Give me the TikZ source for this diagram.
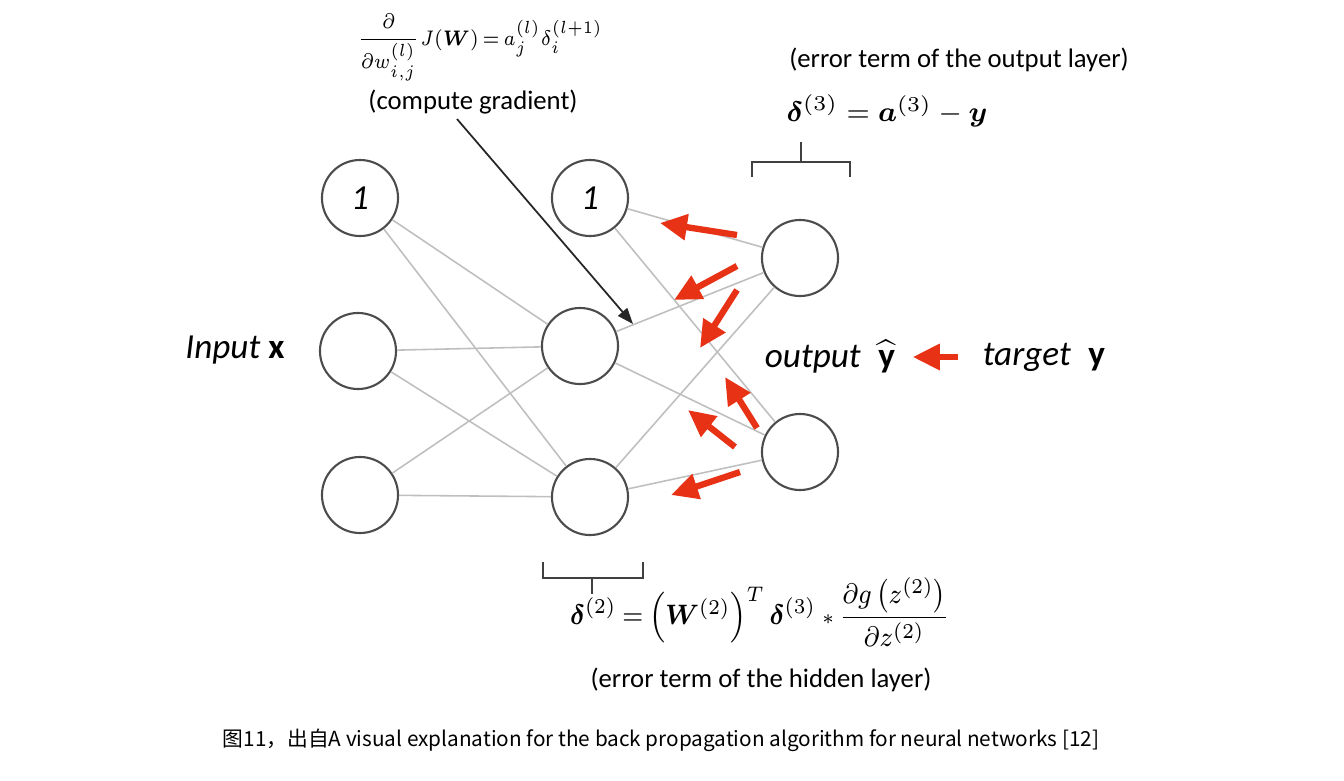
\documentclass[tikz,border=0pt]{standalone}
\usepackage{amsmath}
\usepackage{fontspec}
\setmainfont{Carlito}
\newfontfamily\cjk{Noto Sans CJK SC}
\usetikzlibrary{arrows.meta}
\definecolor{backred}{RGB}{232,50,22}

\begin{document}
\begin{tikzpicture}[x=0.01cm, y=-0.01cm,
    neuron/.style={circle, draw=black!70, line width=0.6pt, minimum size=0.76cm, inner sep=0pt,
      font=\fontsize{10}{10}\selectfont\itshape},
    wire/.style={draw=black!25, line width=0.45pt},
    backprop/.style={draw=backred, line width=1.8pt, -{Triangle[length=2.7mm,width=2.5mm]}},
    note/.style={inner sep=0pt, font=\fontsize{7.6}{9}\selectfont},
    bignote/.style={inner sep=0pt, font=\fontsize{10}{12}\selectfont},
    brace/.style={draw=black!75, line width=0.55pt}]
    \useasboundingbox (0,0) rectangle (1344,781);

    \node[neuron] (in0) at (360, 198) {1};
    \node[neuron] (in1) at (358, 351) {};
    \node[neuron] (in2) at (360, 495) {};

    \node[neuron] (hid0) at (590, 198) {1};
    \node[neuron] (hid1) at (580, 346) {};
    \node[neuron] (hid2) at (590, 497) {};

    \node[neuron] (out1) at (800, 258) {};
    \node[neuron] (out2) at (800, 452) {};

    \node[bignote] (inlabel) at (235, 350) {\textit{Input} \textbf{x}};
    \node[bignote] (outlabel) at (830, 357) {\textit{output}\enspace$\widehat{\textbf{y}}$};
    \node[bignote] (target) at (1044, 357) {\textit{target}\enspace\textbf{y}};

    \node[note, font=\fontsize{6.2}{8}\selectfont] (grad) at (480, 47)
      {\scalebox{0.86}[1]{$\thickmuskip=3mu\dfrac{\partial}{\partial w_{i,j}^{(l)}}J(\boldsymbol{W}) = a_j^{(l)}\delta_i^{(l+1)}$}};
    \node[note] (gradtext) at (473, 102) {(compute gradient)};
    \node[note] (outerr) at (959, 60) {(error term of the output layer)};
    \node[note, font=\fontsize{8}{10}\selectfont] (delta3) at (887, 111)
      {$\boldsymbol{\delta}^{(3)} = \boldsymbol{a}^{(3)} - \boldsymbol{y}$};
    \node[note, font=\fontsize{8}{10}\selectfont] (delta2) at (760, 612)
      {\scalebox{0.9}[1]{$\thickmuskip=4mu\boldsymbol{\delta}^{(2)} = \left(\boldsymbol{W}^{(2)}\right)^{T}\boldsymbol{\delta}^{(3)}\;{\scriptstyle *}\,\dfrac{\partial g\left(z^{(2)}\right)}{\partial z^{(2)}}$}};
    \node[note] (hiderr) at (761, 680) {(error term of the hidden layer)};

    \node[inner sep=0pt, font=\cjk\fontsize{5.9}{7}\selectfont] (caption) at (661, 740)
      {图11，出自A visual explanation for the back propagation algorithm for neural networks [12]};

    \draw[wire] (in0) -- (hid1);
    \draw[wire] (in0) -- (hid2);
    \draw[wire] (in1) -- (hid1);
    \draw[wire] (in1) -- (hid2);
    \draw[wire] (in2) -- (hid1);
    \draw[wire] (in2) -- (hid2);

    \draw[wire] (hid0) -- (out1);
    \draw[wire] (hid0) -- (out2);
    \draw[wire] (hid1) -- (out1);
    \draw[wire] (hid1) -- (out2);
    \draw[wire] (hid2) -- (out1);
    \draw[wire] (hid2) -- (out2);

    \coordinate (gradtail) at (457, 119);
    \coordinate (gradtip) at (633, 324);
    \draw[black!85, line width=0.5pt, -{Triangle[length=1.6mm,width=1.2mm]}] (gradtail) -- (gradtip);

    \foreach \sx/\sy/\ex/\ey in {737/235/660/223, 737/266/674/300, 737/290/700/348,
                                 757/428/725/377, 735/447/688/410, 740/472/671/495}
      \draw[backprop] (\sx,\sy) -- (\ex,\ey);
    \draw[backprop] ([xshift=-2.4mm]target.west) -- ([xshift=1.7mm]outlabel.east);

    \draw[brace] (752, 177) -- (752, 162) -- (850, 162) -- (850, 177);
    \draw[brace] (801, 162) -- (801, 142);
    \draw[brace] (543, 562) -- (543, 578) -- (643, 578) -- (643, 562);
    \draw[brace] (592, 578) -- (592, 594);
  \end{tikzpicture}
\end{document}
